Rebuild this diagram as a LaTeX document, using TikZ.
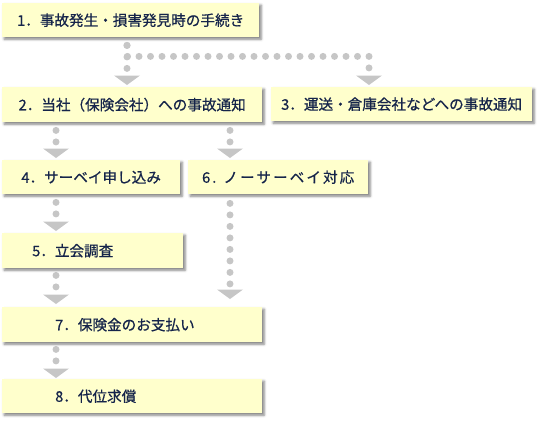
\documentclass[tikz,border=0pt]{standalone}
\usepackage{fontspec}
\setmainfont{Noto Sans CJK JP}[FakeBold=0.7]
\newfontfamily\spacedfont{Noto Sans CJK JP}[FakeBold=0.7,LetterSpace=14]
\usetikzlibrary{arrows.meta,shadows.blur}
\definecolor{notefill}{HTML}{FFFFCC}
\definecolor{notetext}{HTML}{15244A}
\definecolor{dotgray}{HTML}{C6C6C6}
\tikzset{
  stage/.style={
    % The shape:
    rectangle,
    anchor=north west,
    % The size:
    minimum height=34pt,
    inner ysep=0pt,
    % The filling:
    fill=notefill,
    blur shadow={shadow xshift=2pt,shadow yshift=-2pt,
                 shadow blur radius=2.5pt,shadow opacity=50},
    % The text:
    text=notetext,
    font=\fontsize{14.6}{16}\selectfont,
    text height=12.1pt,text depth=1pt},
  stage left/.style 2 args={
    stage,
    align=left,
    inner xsep=#1,
    text width=#2},
  flow/.style={
    % The dots:
    draw=dotgray,
    line width=7pt,
    line cap=round,
    dash pattern=on 0pt off 11.5pt,
    shorten <=8pt,
    % The tip:
    -{Triangle[width=26pt 0 0,length=9.5pt 0 0,line width=0pt 0 0,fill=dotgray]}}
}

\begin{document}
\begin{tikzpicture}[x=1pt,y=-1pt]
  \useasboundingbox (0,0) rectangle (540,421);

  % First row:
  \node (accident) [stage,minimum width=257pt] at (2,3) {1．事故発生・損害発見時の手続き};
  % Second row:
  \node (insurer) [stage,minimum width=260pt,minimum height=35pt] at (2,87) {2．当社（保険会社）への事故通知};
  \node (carrier) [stage,minimum width=261pt] at (271,87) {3．運送・倉庫会社などへの事故通知};
  % Third row:
  \node (survey)   [stage,minimum width=178pt] at (2,160) {4．サーベイ申し込み};
  \node (nosurvey) [stage,minimum width=180pt] at (188,160) {\spacedfont 6. ノーサーベイ対応};
  % The rest:
  \node (joint)       [stage left={30pt}{121pt},minimum height=35pt] at (2,233) {5．立会調査};
  \node (payment)     [stage left={53pt}{154pt},minimum height=35pt] at (2,307) {7．保険金のお支払い};
  \node (subrogation) [stage left={53pt}{154pt}] at (2,379) {8．代位求償};

  \draw [flow,shorten >=2pt] ([xshift=125pt]accident.south west) -- ([xshift=125pt]insurer.north west);
  \draw [flow,shorten >=2pt] ([xshift=125pt]accident.south west) -- ++(0,19) -| ([xshift=98pt]carrier.north west);
  \draw [flow,shorten >=2pt] ([xshift=54pt]insurer.south west) -- ([xshift=54pt]survey.north west);
  \draw [flow,shorten >=2pt] ([xshift=228pt]insurer.south west) -- ([xshift=42pt]nosurvey.north west);
  \draw [flow,shorten >=2pt] ([xshift=54pt]survey.south west) -- ([xshift=54pt]joint.north west);
  \draw [flow,shorten <=7pt,shorten >=3pt] ([xshift=54pt]joint.south west) -- ([xshift=54pt]payment.north west);
  \draw [flow,shorten <=9pt,shorten >=8pt] ([xshift=42pt]nosurvey.south west) -- ([xshift=228pt]payment.north west);
  \draw [flow,shorten <=7pt,shorten >=1pt] ([xshift=54pt]payment.south west) -- ([xshift=54pt]subrogation.north west);

\end{tikzpicture}
\end{document}
